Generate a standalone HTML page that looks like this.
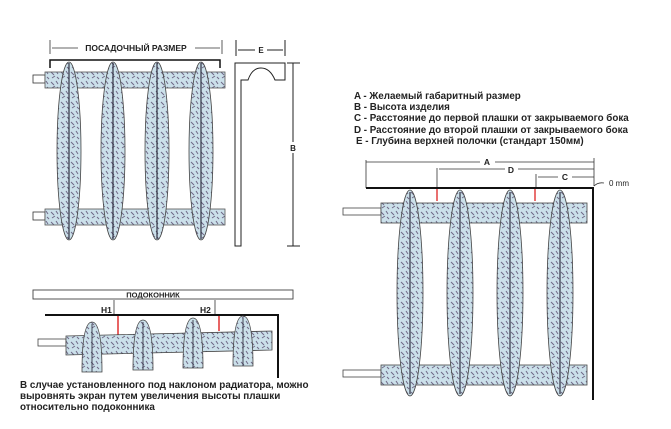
<!DOCTYPE html>
<html><head><meta charset="utf-8"><style>
html,body{margin:0;padding:0;background:#fff;}
svg{display:block;}
text{font-family:"Liberation Sans","DejaVu Sans",sans-serif;font-weight:bold;fill:#222;}
</style></head><body>
<svg width="671" height="429" viewBox="0 0 671 429" xmlns="http://www.w3.org/2000/svg">
<defs>
<pattern id="tx" width="10" height="10" patternUnits="userSpaceOnUse">
<rect width="10" height="10" fill="#cbe0ea"/>
<path d="M1 2 L4 5 M6 1 L8 4 M2 8 L5 6 M7 7 L9 9" stroke="#6f6886" stroke-width="1"/>
</pattern>
</defs>

<!-- TOP-LEFT RADIATOR -->
<g stroke="#333" stroke-width="0.8">
<line x1="50" y1="40" x2="50" y2="54"/><line x1="222" y1="40" x2="222" y2="54"/>
<line x1="52" y1="48" x2="78" y2="48"/><line x1="195" y1="48" x2="220" y2="48"/>
<path d="M50 68 V60 H220 V68" fill="none" stroke="#111" stroke-width="1.5"/>
<rect x="33" y="75" width="12" height="8" fill="#fff"/>
<rect x="33" y="212" width="12" height="8" fill="#fff"/>
<rect x="45" y="72" width="180" height="16" fill="url(#tx)" stroke="#555"/>
<rect x="45" y="209" width="180" height="16" fill="url(#tx)" stroke="#555"/>
<g fill="url(#tx)" stroke="#444">
<ellipse cx="69" cy="151" rx="12" ry="89"/><ellipse cx="113" cy="151" rx="12" ry="89"/>
<ellipse cx="157" cy="151" rx="12" ry="89"/><ellipse cx="201" cy="151" rx="12" ry="89"/>
</g>
<g stroke="#223" stroke-width="1.1">
<line x1="69" y1="63" x2="69" y2="239"/><line x1="113" y1="63" x2="113" y2="239"/>
<line x1="157" y1="63" x2="157" y2="239"/><line x1="201" y1="63" x2="201" y2="239"/>
</g>
</g>
<text x="136" y="51" font-size="8.5" text-anchor="middle">ПОСАДОЧНЫЙ РАЗМЕР</text>

<!-- shelf profile -->
<g fill="none" stroke="#222" stroke-width="1">
<path d="M235 246 V63 H285 V80 H275 Q270 68 261 68 Q252 68 248 80 H241 V246 Z"/>
<line x1="236" y1="40" x2="236" y2="56"/><line x1="285" y1="40" x2="285" y2="56"/>
<line x1="238" y1="50" x2="255" y2="50"/><line x1="267" y1="50" x2="283" y2="50"/>
<line x1="293" y1="63" x2="293" y2="246"/>
<line x1="287" y1="63" x2="300" y2="63"/><line x1="287" y1="246" x2="300" y2="246"/>
</g>
<text x="261" y="53" font-size="8" text-anchor="middle">E</text>
<rect x="289" y="142" width="8" height="11" fill="#fff"/>
<text x="293" y="151" font-size="8" text-anchor="middle">B</text>

<!-- legend -->
<g font-size="9.8">
<text x="354" y="99">A - Желаемый габаритный размер</text>
<text x="354" y="110">B - Высота изделия</text>
<text x="354" y="121">C - Расстояние до первой плашки от закрываемого бока</text>
<text x="354" y="133">D - Расстояние до второй плашки от закрываемого бока</text>
<text x="356" y="144">E - Глубина верхней полочки (стандарт 150мм)</text>
</g>

<!-- RIGHT RADIATOR -->
<g stroke="#333" stroke-width="0.8" fill="none">
<line x1="366" y1="160" x2="366" y2="188"/>
<line x1="366" y1="162" x2="480" y2="162"/><line x1="495" y1="162" x2="594" y2="162"/>
<line x1="437" y1="168" x2="437" y2="188"/>
<line x1="439" y1="169" x2="505" y2="169"/><line x1="518" y1="169" x2="594" y2="169"/>
<line x1="536" y1="174" x2="536" y2="188"/>
<line x1="538" y1="177" x2="558" y2="177"/><line x1="572" y1="177" x2="594" y2="177"/>
<line x1="594" y1="158" x2="594" y2="186"/>
<path d="M594 186 Q598 182 604 183"/>
</g>
<g font-size="8.5"><text x="487" y="165" text-anchor="middle">A</text><text x="511" y="173" text-anchor="middle">D</text><text x="565" y="180" text-anchor="middle">C</text></g>
<text x="609" y="186" font-size="8" style="font-weight:normal">0 mm</text>
<path d="M366 188 H593 V400" fill="none" stroke="#111" stroke-width="2"/>
<g stroke="#d22" stroke-width="1.3"><line x1="437" y1="189" x2="437" y2="201"/><line x1="535" y1="189" x2="535" y2="201"/></g>
<g stroke="#444" stroke-width="0.8">
<rect x="343" y="208" width="38" height="7" fill="#fff"/>
<rect x="343" y="370" width="38" height="7" fill="#fff"/>
<rect x="381" y="203" width="206" height="20" fill="url(#tx)"/>
<rect x="381" y="365" width="206" height="20" fill="url(#tx)"/>
<g fill="url(#tx)">
<ellipse cx="410" cy="293" rx="13" ry="103"/><ellipse cx="460" cy="293" rx="13" ry="103"/>
<ellipse cx="510" cy="293" rx="13" ry="103"/><ellipse cx="560" cy="293" rx="13" ry="103"/>
</g>
<g stroke="#223" stroke-width="1.1">
<line x1="410" y1="192" x2="410" y2="394"/><line x1="460" y1="192" x2="460" y2="394"/>
<line x1="510" y1="192" x2="510" y2="394"/><line x1="560" y1="192" x2="560" y2="394"/>
</g>
</g>

<!-- BOTTOM-LEFT -->
<rect x="33" y="290" width="260" height="9" fill="#fff" stroke="#444" stroke-width="0.9"/>
<text x="153" y="297.5" font-size="7.5" text-anchor="middle">ПОДОКОННИК</text>
<path d="M45 315 H278 V378" fill="none" stroke="#111" stroke-width="2"/>
<g stroke="#333" stroke-width="0.8">
<line x1="114" y1="300" x2="114" y2="314"/><line x1="215" y1="300" x2="215" y2="314"/>
</g>
<text x="101" y="313" font-size="8.5">H1</text>
<text x="200" y="313" font-size="8.5">H2</text>
<g stroke="#d22" stroke-width="1.4"><line x1="118" y1="316" x2="118" y2="336"/><line x1="219" y1="316" x2="219" y2="331"/></g>
<g stroke="#444" stroke-width="0.8">
<rect x="38" y="339" width="28" height="7" fill="#fff"/>
<path d="M66 336 L272 331 V350 L66 355 Z" fill="url(#tx)"/>
<g fill="url(#tx)">
<path d="M82 372 Q82 322 92 322 Q102 322 102 372 Z"/>
<path d="M133 370 Q133 320 143 320 Q153 320 153 370 Z"/>
<path d="M183 368 Q183 318 193 318 Q203 318 203 368 Z"/>
<path d="M233 366 Q233 316 243 316 Q253 316 253 366 Z"/>
</g>
<g stroke="#223"><line x1="92" y1="324" x2="92" y2="372"/><line x1="143" y1="322" x2="143" y2="370"/><line x1="193" y1="320" x2="193" y2="368"/><line x1="243" y1="318" x2="243" y2="366"/></g>
</g>
<g font-size="9.9">
<text x="20" y="388">В случае установленного под наклоном радиатора, можно</text>
<text x="20" y="399">выровнять экран путем увеличения высоты плашки</text>
<text x="20" y="410">относительно подоконника</text>
</g>
</svg>
</body></html>
